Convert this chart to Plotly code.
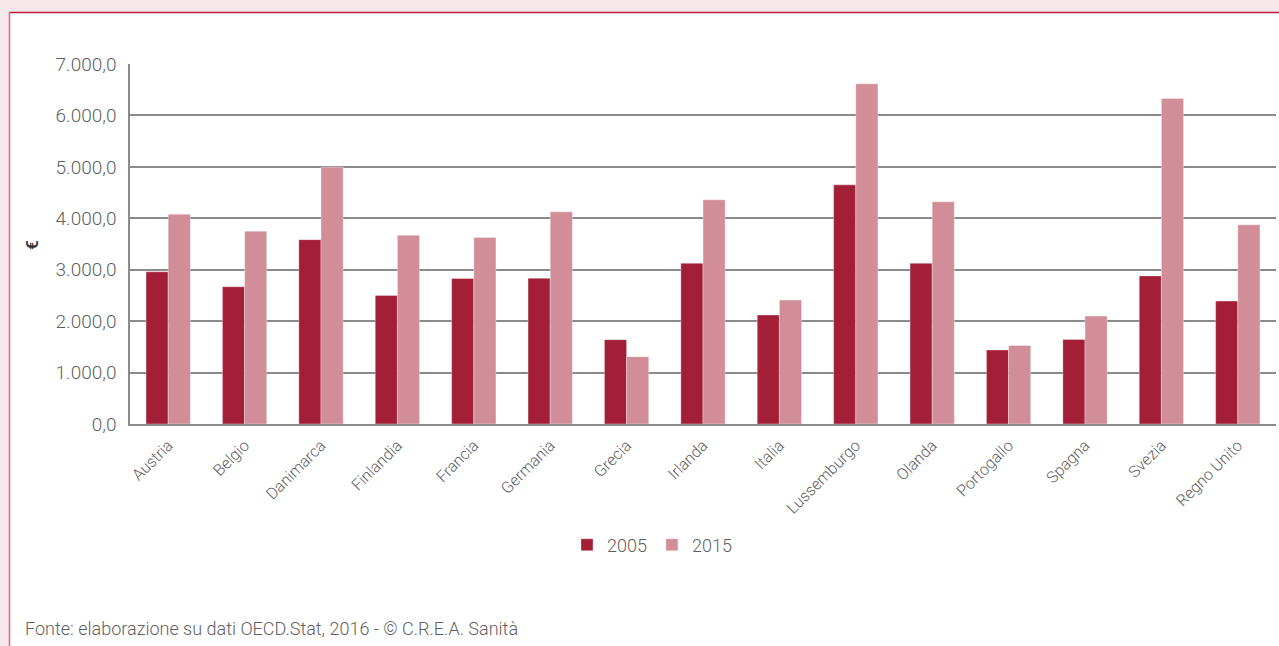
import plotly.graph_objects as go

categories = ["Austria", "Belgio", "Danimarca", "Finlandia", "Francia", "Germania", "Grecia",
              "Irlanda", "Italia", "Lussemburgo", "Olanda", "Portogallo", "Spagna", "Svezia",
              "Regno Unito"]
values_2005 = [2960, 2670, 3585, 2500, 2830, 2835, 1640, 3125, 2120, 4650, 3125, 1440, 1645, 2880, 2390]
values_2015 = [4080, 3750, 4995, 3670, 3625, 4125, 1310, 4360, 2410, 6615, 4320, 1525, 2100, 6330, 3875]
y_ticks = [0, 1000, 2000, 3000, 4000, 5000, 6000, 7000]
y_tick_labels = ["0,0", "1.000,0", "2.000,0", "3.000,0", "4.000,0", "5.000,0", "6.000,0", "7.000,0"]

W, H = 1279, 646
ML, MR, MT, MB = 130, 3, 64, 222
PW = W - ML - MR
PH = H - MT - MB


def px(x):
    return (x - ML) / PW


def py(y):
    return (H - MB - y) / PH


FONT = "Roboto, Liberation Sans, sans-serif"
C2005 = "#a31e37"
C2015 = "#d18e98"
TXT = "#5f5f5f"

fig = go.Figure()
fig.add_trace(go.Bar(name="2005", x=categories, y=values_2005, marker_color=C2005,
                     marker_line=dict(color="rgba(255,255,255,0.35)", width=1)))
fig.add_trace(go.Bar(name="2015", x=categories, y=values_2015, marker_color=C2015,
                     marker_line=dict(color="rgba(255,255,255,0.35)", width=1)))

fig.update_layout(
    width=W, height=H,
    margin=dict(l=ML, r=MR, t=MT, b=MB),
    paper_bgcolor="#f6e7eb",
    plot_bgcolor="white",
    barmode="group",
    bargap=0.42,
    bargroupgap=0,
    font=dict(family=FONT, color=TXT, weight=300),
    legend=dict(orientation="h", x=px(652), y=py(545), xanchor="center", yanchor="middle",
                font=dict(size=18, color=TXT, weight=300), bgcolor="rgba(0,0,0,0)",
                itemwidth=30, traceorder="normal"),
    showlegend=True,
)

fig.update_yaxes(range=[0, 7000], tickvals=y_ticks, ticktext=y_tick_labels,
                 showgrid=True, gridcolor="#8a8a8a", gridwidth=1.5,
                 showline=True, linecolor="#8a8a8a", linewidth=1.5,
                 zeroline=False, ticks="", ticklabelstandoff=8,
                 tickfont=dict(size=19, color=TXT, weight=300))
fig.update_xaxes(showline=True, linecolor="#8a8a8a", linewidth=1.5, ticks="",
                 tickangle=-45, tickfont=dict(size=16, color=TXT, weight=300),
                 ticklabelstandoff=4)

# white panel with red border
fig.add_shape(type="rect", xref="paper", yref="paper", layer="below",
              x0=px(9), x1=px(1300), y0=py(700), y1=py(12),
              fillcolor="white", line=dict(width=0))
fig.add_shape(type="line", xref="paper", yref="paper",
              x0=px(9), x1=px(1300), y0=py(12.5), y1=py(12.5),
              line=dict(color="#c0183a", width=1.5))
fig.add_shape(type="line", xref="paper", yref="paper",
              x0=px(9.5), x1=px(9.5), y0=py(12), y1=py(700),
              line=dict(color="#d46b80", width=1.5))

fig.add_annotation(text="€", xref="paper", yref="paper", x=px(32), y=py(245),
                   showarrow=False, textangle=-90,
                   font=dict(size=17, color="#333333", family=FONT, weight=600),
                   xanchor="center", yanchor="middle")
fig.add_annotation(text="Fonte: elaborazione su dati OECD.Stat, 2016 - © C.R.E.A. Sanità",
                   xref="paper", yref="paper", x=px(23), y=py(628), showarrow=False,
                   xanchor="left", yanchor="middle",
                   font=dict(size=18, color=TXT, family=FONT, weight=300))

fig.write_html("out.html", config={"displayModeBar": False},
               post_script="document.body.style.margin='0';document.body.style.overflow='hidden';"
                           "document.body.style.background='#f6e7eb';")
